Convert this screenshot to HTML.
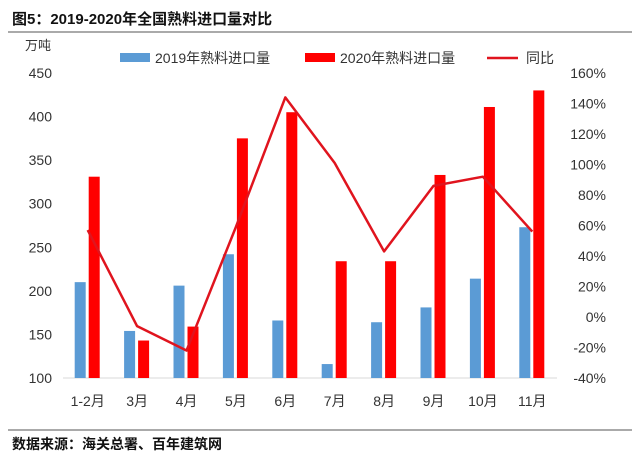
<!DOCTYPE html>
<html><head><meta charset="utf-8"><style>
body{margin:0;background:#fff;width:640px;height:465px;overflow:hidden;font-family:"Liberation Sans","Noto Sans CJK SC",sans-serif}
</style></head><body>
<svg width="640" height="465" xmlns="http://www.w3.org/2000/svg" font-family="Liberation Sans, Noto Sans CJK SC, sans-serif">
<text x="12" y="24" font-size="15" font-weight="bold" fill="#111">图5：2019-2020年全国熟料进口量对比</text>
<line x1="8" y1="32" x2="632" y2="32" stroke="#777" stroke-width="1.2"/>
<text x="25" y="50" font-size="13" fill="#333">万吨</text>
<g>
<rect x="120" y="53" width="30" height="9" fill="#5B9BD5"/>
<text x="155" y="63" font-size="14" fill="#333">2019年熟料进口量</text>
<rect x="305" y="53" width="30" height="9" fill="#FF0000"/>
<text x="340" y="63" font-size="14" fill="#333">2020年熟料进口量</text>
<line x1="487" y1="58" x2="518" y2="58" stroke="#E0141E" stroke-width="2.5"/>
<text x="526" y="63" font-size="14" fill="#333">同比</text>
</g>
<g id="chart"></g>
<line x1="8" y1="430" x2="632" y2="430" stroke="#777" stroke-width="1.2"/>
<text x="12" y="449" font-size="14" font-weight="bold" fill="#111">数据来源：海关总署、百年建筑网</text>
</svg>
<script>
const categories=["1-2月","3月","4月","5月","6月","7月","8月","9月","10月","11月"];
const imports2019=[210,154,206,242,166,116,164,181,214,273];
const imports2020=[331,143,159,375,405,234,234,333,411,430];
const yoyPct=[57,-6,-22,59,144,101,43,86,92,56];
const leftTicks=[100,150,200,250,300,350,400,450];
const rightTicks=[-40,-20,0,20,40,60,80,100,120,140,160];
const NS="http://www.w3.org/2000/svg";
const chartG=document.getElementById('chart');
const plotTop=73,plotBot=378,plotL=63,plotR=557;
const yL=v=>plotBot-(v-100)/350*(plotBot-plotTop);
const yR=v=>plotBot-(v+40)/200*(plotBot-plotTop);
const step=(plotR-plotL)/categories.length;
const xC=i=>plotL+step*(i+0.5);
function mk(t,a){const e=document.createElementNS(NS,t);for(const k in a)e.setAttribute(k,a[k]);chartG.appendChild(e);return e;}
leftTicks.forEach(v=>{const t=mk('text',{x:52,y:yL(v)+5,'font-size':14,fill:'#333','text-anchor':'end'});t.textContent=v;

});
rightTicks.forEach(v=>{const t=mk('text',{x:606,y:yR(v)+5,'font-size':14,fill:'#333','text-anchor':'end'});t.textContent=v+'%';

});
const ax=mk('line',{x1:plotL,y1:plotBot,x2:plotR,y2:plotBot,stroke:'#d9d9d9','stroke-width':1});


categories.forEach((c,i)=>{
const x=xC(i);
const b1=mk('rect',{x:x-13,y:yL(imports2019[i]),width:11,height:plotBot-yL(imports2019[i]),fill:'#5B9BD5'});


const b2=mk('rect',{x:x+1,y:yL(imports2020[i]),width:11,height:plotBot-yL(imports2020[i]),fill:'#FF0000'});


const t=mk('text',{x:x,y:406,'font-size':14,fill:'#333','text-anchor':'middle'});t.textContent=c;


});
const pl=mk('polyline',{points:yoyPct.map((v,i)=>xC(i)+','+yR(v)).join(' '),fill:'none',stroke:'#E0141E','stroke-width':2.5,'stroke-linejoin':'round'});


</script>
</body></html>
